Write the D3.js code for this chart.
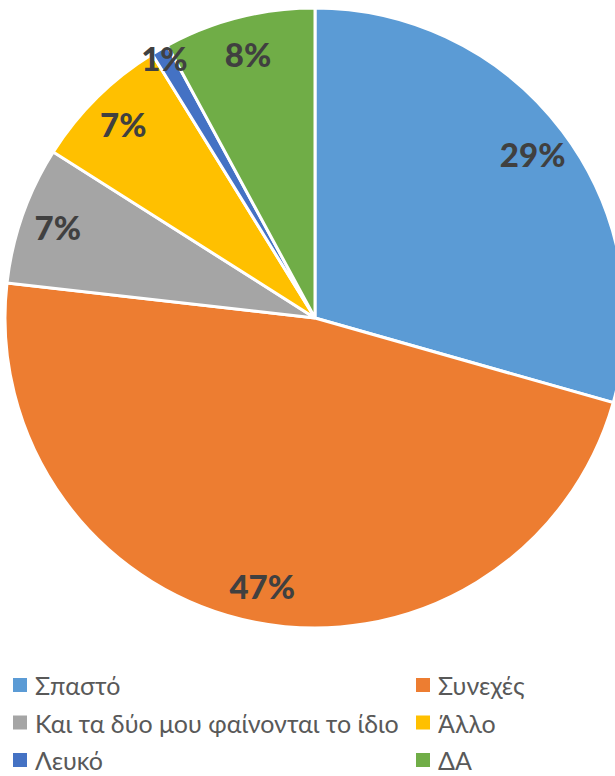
<!DOCTYPE html>
<html>
<head>
<meta charset="utf-8">
<script src="https://cdn.jsdelivr.net/npm/d3@7"></script>
<style>
  body { margin: 0; background: #fff; }
</style>
</head>
<body>
<div id="chart"></div>
<script>
// slice data, clockwise from 12 o'clock
const categories = ["Σπαστό", "Συνεχές", "Και τα δύο μου φαίνονται το ίδιο", "Άλλο", "Λευκό", "ΔΑ"];
const values = [29.4, 47.4, 7.2, 7.2, 0.9, 7.9];
const colors = ["#5B9BD5", "#ED7D31", "#A5A5A5", "#FFC000", "#4472C4", "#70AD47"];

const width = 615, height = 776;
const cx = 315, cy = 318, radius = 310;

const svg = d3.select("#chart")
  .append("svg")
  .attr("width", width)
  .attr("height", height);

const g = svg.append("g")
  .attr("transform", "translate(" + cx + "," + cy + ")");

const pie = d3.pie().sort(null).value(d => d);
const arcs = pie(values);

const arc = d3.arc().innerRadius(0).outerRadius(radius);

g.selectAll("path.slice")
  .data(arcs)
  .enter().append("path")
  .attr("class", "slice")
  .attr("d", arc)
  .attr("fill", (d, i) => colors[i])
  .attr("stroke", "#fff")
  .attr("stroke-width", 3)
  .attr("stroke-linejoin", "miter");

// labels, the tiny slice sits near the rim
const total = d3.sum(values);
g.selectAll("text.lbl")
  .data(arcs)
  .enter().append("text")
  .attr("class", "lbl")
  .attr("transform", d => {
    const r = d.value < 2 ? radius * 0.97 : radius * 0.88;
    const a = (d.startAngle + d.endAngle) / 2;
    return "translate(" + (Math.sin(a) * r) + "," + (-Math.cos(a) * r) + ")";
  })
  .attr("text-anchor", "middle")
  .attr("dominant-baseline", "central")
  .style("font-family", "Lato, 'Open Sans', sans-serif")
  .style("font-weight", "900")
  .style("font-size", "33px")
  .style("fill", "#404040")
  .text(d => Math.round(d.value / total * 100) + "%");

// legend, two columns
const legend = svg.append("g");
const colX = [13, 416];
const rowY = d3.scaleLinear().domain([0, 2]).range([685, 760]);

const item = legend.selectAll("g.item")
  .data(categories)
  .enter().append("g")
  .attr("class", "item")
  .attr("transform", (d, i) => "translate(" + colX[i % 2] + "," + rowY(Math.floor(i / 2)) + ")");

item.append("rect")
  .attr("x", 0).attr("y", -7)
  .attr("width", 14).attr("height", 14)
  .attr("fill", (d, i) => colors[i]);

item.append("text")
  .attr("x", 22)
  .attr("dominant-baseline", "central")
  .style("font-family", "Lato, 'Open Sans', sans-serif")
  .style("font-size", "25px")
  .style("fill", "#595959")
  .text(d => d);
</script>
</body>
</html>
